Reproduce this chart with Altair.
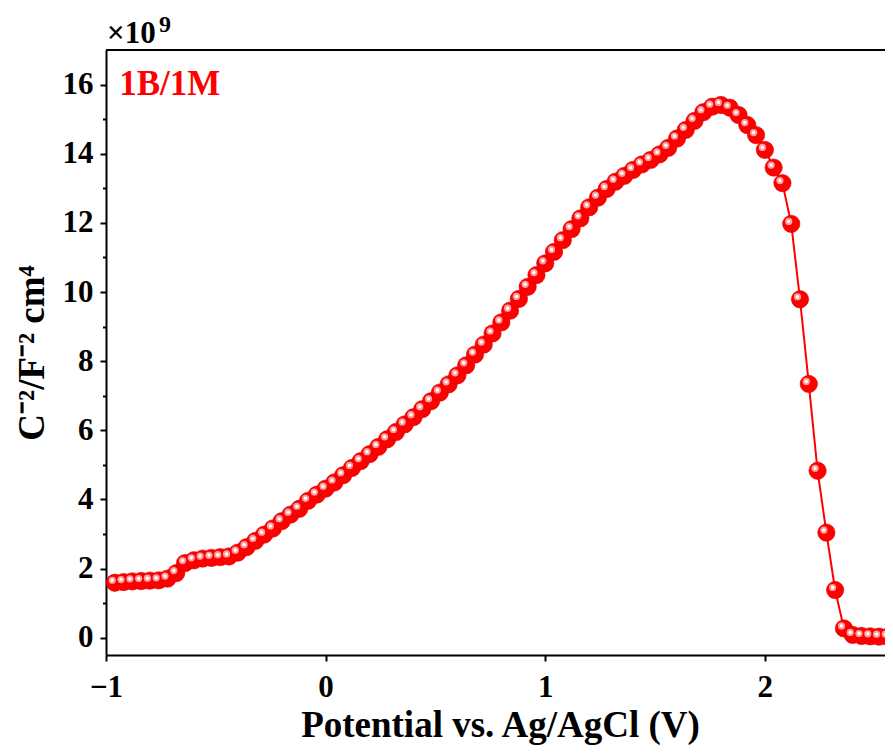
import altair as alt
import pandas as pd

# Potential vs. Ag/AgCl (V)
potential = [-0.96, -0.92, -0.88, -0.84, -0.80, -0.76, -0.72, -0.68, -0.64, -0.60,
             -0.56, -0.52, -0.48, -0.44, -0.40, -0.36, -0.32, -0.28, -0.24, -0.20,
             -0.16, -0.12, -0.08, -0.04, 0.00, 0.04, 0.08, 0.12, 0.16, 0.20,
             0.24, 0.28, 0.32, 0.36, 0.40, 0.44, 0.48, 0.52, 0.56, 0.60,
             0.64, 0.68, 0.72, 0.76, 0.80, 0.84, 0.88, 0.92, 0.96, 1.00,
             1.04, 1.08, 1.12, 1.16, 1.20, 1.24, 1.28, 1.32, 1.36, 1.40,
             1.44, 1.48, 1.52, 1.56, 1.60, 1.64, 1.68, 1.72, 1.76, 1.80,
             1.84, 1.88, 1.92, 1.96, 2.00, 2.04, 2.08, 2.12, 2.16, 2.20,
             2.24, 2.28, 2.32, 2.36, 2.40, 2.44, 2.48, 2.52, 2.56]

# C^-2 (x 1e9)
c_minus2 = [1.59, 1.61, 1.63, 1.64, 1.65, 1.66, 1.71, 1.87, 2.16, 2.24,
            2.29, 2.31, 2.33, 2.35, 2.46, 2.62, 2.80, 2.98, 3.16, 3.37,
            3.56, 3.73, 3.96, 4.14, 4.31, 4.49, 4.70, 4.91, 5.11, 5.31,
            5.52, 5.74, 5.95, 6.17, 6.38, 6.61, 6.84, 7.09, 7.33, 7.59,
            7.88, 8.19, 8.48, 8.80, 9.12, 9.46, 9.80, 10.15, 10.49, 10.83,
            11.16, 11.50, 11.82, 12.13, 12.45, 12.73, 12.98, 13.19, 13.36, 13.53,
            13.69, 13.82, 13.98, 14.17, 14.44, 14.69, 14.95, 15.20, 15.36, 15.41,
            15.33, 15.12, 14.83, 14.54, 14.11, 13.60, 13.15, 11.97, 9.79, 7.34,
            4.83, 3.04, 1.38, 0.27, 0.08, 0.05, 0.04, 0.03, 0.03]

x_tick_values = [-1, -0.5, 0, 0.5, 1, 1.5, 2, 2.5]
y_tick_values = [0, 1, 2, 3, 4, 5, 6, 7, 8, 9, 10, 11, 12, 13, 14, 15, 16]
x_title = "Potential vs. Ag/AgCl (V)"
y_title = "C\u207b\u00b2/F\u207b\u00b2 cm\u2074"
series_label = ["1B/1M"]
series_label_pos = [(-0.94, 15.71)]
multiplier_text = ["\u00d710"]
multiplier_exp = ["9"]

df = pd.DataFrame({"x": potential, "y": c_minus2})

W, H = 779, 605
FONT = "Liberation Serif"
RED = "#ff0000"

xscale = alt.Scale(domain=[-1, 2.547], nice=False, zero=False)
yscale = alt.Scale(domain=[-0.5, 17], nice=False, zero=False)

xaxis = alt.Axis(
    values=x_tick_values, format="d",
    labelExpr="datum.value % 1 === 0 ? datum.label : ''",
    labelFont=FONT, labelFontWeight="bold", labelFontSize=31, labelColor="black",
    labelPadding=11, labelFlush=False, labelOverlap=False,
    tickColor="black", tickWidth=2,
    tickSize={"condition": {"test": "datum.value % 1 !== 0", "value": 3.5}, "value": 6},
    domainColor="black", domainWidth=2, grid=False,
    title=x_title, titleFont=FONT, titleFontWeight="bold", titleFontSize=37,
    titleColor="black", titleX=394, titleY=81, titleAlign="center",
    titleBaseline="alphabetic",
)
yaxis = alt.Axis(
    values=y_tick_values,
    labelExpr="datum.value % 2 === 0 ? datum.label : ''",
    labelFont=FONT, labelFontWeight="bold", labelFontSize=31, labelColor="black",
    labelPadding=7, labelFlush=False, labelOverlap=False, labelBaseline="middle",
    tickColor="black", tickWidth=2,
    tickSize={"condition": {"test": "datum.value % 2 !== 0", "value": 3.5}, "value": 6},
    domainColor="black", domainWidth=2, grid=False,
    title=y_title, titleFont=FONT, titleFontWeight="bold", titleFontSize=37,
    titleColor="black", titleAngle=270, titleX=-63, titleY=H / 2,
    titleAlign="center", titleBaseline="alphabetic",
)

X = alt.X("x:Q", scale=xscale, axis=xaxis)
Y = alt.Y("y:Q", scale=yscale, axis=yaxis)

base = alt.Chart(df)
line = base.mark_line(color=RED, strokeWidth=2).encode(x=X, y=Y)
balls = base.mark_circle(size=300, color=RED, opacity=1, stroke="#d80000",
                         strokeWidth=0.6).encode(x=X, y=Y)
halo = base.mark_circle(size=52, color="#ff9e9e", opacity=1,
                        xOffset=-2.5, yOffset=-2.5).encode(x=X, y=Y)
core = base.mark_circle(size=12, color="#ffffff", opacity=1,
                        xOffset=-2.5, yOffset=-2.5).encode(x=X, y=Y)

frame_top = alt.Chart(pd.DataFrame({"k": [0]})).mark_rule(
    color="black", strokeWidth=2
).encode(x=alt.value(0), x2=alt.value(W), y=alt.value(0))

lab_df = pd.DataFrame({"t": series_label,
                       "x": [p[0] for p in series_label_pos],
                       "y": [p[1] for p in series_label_pos]})
label = alt.Chart(lab_df).mark_text(
    font=FONT, fontWeight="bold", fontSize=35, color=RED,
    align="left", baseline="alphabetic"
).encode(x=X, y=Y, text="t:N")

mult = alt.Chart(pd.DataFrame({"t": multiplier_text})).mark_text(
    font=FONT, fontWeight="bold", fontSize=31, color="black",
    align="left", baseline="alphabetic"
).encode(x=alt.value(1), y=alt.value(-7), text="t:N")
expo = alt.Chart(pd.DataFrame({"t": multiplier_exp})).mark_text(
    font=FONT, fontWeight="bold", fontSize=24, color="black",
    align="left", baseline="alphabetic"
).encode(x=alt.value(53), y=alt.value(-18), text="t:N")

chart = alt.layer(line, balls, halo, core, frame_top, label, mult, expo).properties(
    width=W, height=H,
    autosize=alt.AutoSizeParams(type="none"),
    padding={"left": 98, "top": 42, "right": 0, "bottom": 92},
    background="white",
).configure_view(stroke=None)

chart.save("out.html", embed_options={"renderer": "svg", "actions": False})
